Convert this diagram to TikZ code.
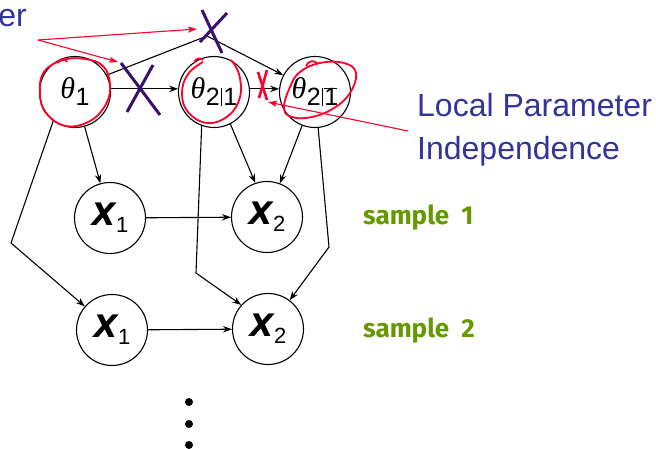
\documentclass[tikz,border=0pt]{standalone}
\usepackage{fontspec}
\usetikzlibrary{arrows.meta}
\newfontfamily\arialfont{Liberation Sans}
\newfontfamily\greekfont{Liberation Serif}
\newfontfamily\xfont{DejaVu Sans}
\newfontfamily\samplefont{Fira Sans}
\definecolor{textblue}{RGB}{51,51,153}
\definecolor{crosspurple}{RGB}{58,16,110}
\definecolor{samplegreen}{RGB}{102,153,0}
\definecolor{annred}{RGB}{255,0,40}
% theta with a subscript set in an upright sans face
\newcommand{\thlab}[1]{{\greekfont\itshape\fontsize{30}{30}\selectfont θ}\kern0.5pt\raisebox{-7pt}{\arialfont\fontsize{25}{25}\selectfont #1}}
\newcommand{\condbar}{\kern1.5pt\rule[0pt]{1pt}{18pt}\kern1pt}
\newcommand{\xlab}[1]{{\xfont\bfseries\itshape\fontsize{31}{31}\selectfont X}\kern0.5pt\raisebox{-7pt}{\arialfont\fontsize{22}{22}\selectfont #1}}
\tikzset{
  var/.style={circle, draw=black, line width=1.1pt, minimum size=71pt, inner sep=0pt},
  arr/.style={line width=1.1pt, -{Stealth[length=9pt,width=6.5pt,inset=3pt]}},
  redarr/.style={annred, line width=1.1pt, -{Stealth[length=9pt,width=6pt,inset=2pt]}},
  cross/.style={crosspurple, line width=3pt},
  redcross/.style={annred, line width=2.6pt},
  loop/.style={annred, line width=1.8pt},
  blue label/.style={textblue, inner sep=0pt, font=\arialfont\fontsize{32}{32}\selectfont},
  sample label/.style={samplegreen, inner sep=0pt, font=\samplefont\bfseries\fontsize{26}{26}\selectfont},
}
\begin{document}
\begin{tikzpicture}[x=1pt, y=-1pt]
\useasboundingbox (0,0) rectangle (656,449);

% parameter nodes
\node[var] (t1) at (75,92) {\thlab{1}};
\node[var] (t2) at (214,92) {\thlab{2\condbar1}};
\node[var] (t3) at (315,92) {\thlab{2\condbar\rlap{\rule[17pt]{13pt}{1pt}}1}};

% data nodes
\node[var] (x1a) at (110,218) {\xlab{1}};
\node[var] (x2a) at (267,217) {\xlab{2}};
\node[var] (x1b) at (112,330) {\xlab{1}};
\node[var] (x2b) at (268,329) {\xlab{2}};

% bend points
\coordinate (ctop) at (207,36);
\coordinate (cl) at (11,243);
\coordinate (cm) at (196,273);
\coordinate (cr) at (329,247);

% edges
\draw[arr] (t1.5) -- (t2.175);
\draw[arr] (t2.5) -- (t3.175);
\draw[arr] (t1.28) -- (ctop) -- (t3.152);
\draw[arr] (t1) -- (x1a);
\draw[arr] (t1.-127) -- (cl) -- (x1b.139);
\draw[arr] (t2.-63) -- (x2a.109);
\draw[arr] (t2.-110) -- (cm) -- (x2b.138);
\draw[arr] (t3.-111) -- (x2a.69);
\draw[arr] (t3.-85) -- (cr) -- (x2b.53);
\draw[arr] (x1a) -- (x2a);
\draw[arr] (x1b) -- (x2b);

% sample labels
\node[sample label, anchor=base west] (s1) at (363,225) {sample\hspace{6pt} 1};
\node[sample label, anchor=base west] (s2) at (363,337) {sample\hspace{6pt} 2};

% ellipsis dots
\foreach \yy in {402,424,445} \fill (189,\yy) circle (4);

% annotation texts
\node[blue label, anchor=base east] (er) at (27,27) {er};
\node[blue label, anchor=base west] (lp1) at (417,117) {Local Parameter};
\node[blue label, anchor=base west] (lp2) at (417,160) {Independence};

% annotation arrows
\coordinate (gsrc) at (38,40);
\coordinate (gtop) at (197,29);
\coordinate (gmid) at (118,62);
\coordinate (lsrc) at (408,131);
\coordinate (ltip) at (268,102);
\draw[redarr] (gsrc) -- (gtop);
\draw[redarr] (gsrc) -- (gmid);
\draw[redarr] (lsrc) -- (ltip);

% crossed-out edges
\draw[cross] (202,10) -- (222,53);
\draw[cross] (227,13) -- (200,42);
\draw[cross] (121,63) -- (160,115);
\draw[cross] (153,65) -- (127,112);
\draw[redcross] (258,72) -- (267,100);
\draw[redcross] (267,70) -- (259,98);

% hand-drawn loops round the parameters
\draw[loop] plot[smooth cycle, tension=0.7] coordinates
  {(63,60) (44,72) (40,93) (46,113) (66,126) (90,121) (106,104) (110,84) (103,66) (85,59)};
\draw[loop] (58,63) .. controls (59,58) and (65,58) .. (67,62);
\draw[loop] plot[smooth, tension=0.7] coordinates
  {(203,62) (188,74) (182,93) (188,112) (207,123) (228,116) (240,97) (239,74) (231,60)};
\draw[loop] (194,63) .. controls (195,58) and (201,57) .. (203,60);
\draw[loop] plot[smooth cycle, tension=0.7] coordinates
  {(284,108) (290,87) (300,72) (320,63) (344,63) (356,73) (350,93) (334,108) (312,117) (292,117)};
\draw[loop] (306,66) .. controls (308,61) and (314,59) .. (318,64);
\end{tikzpicture}
\end{document}
